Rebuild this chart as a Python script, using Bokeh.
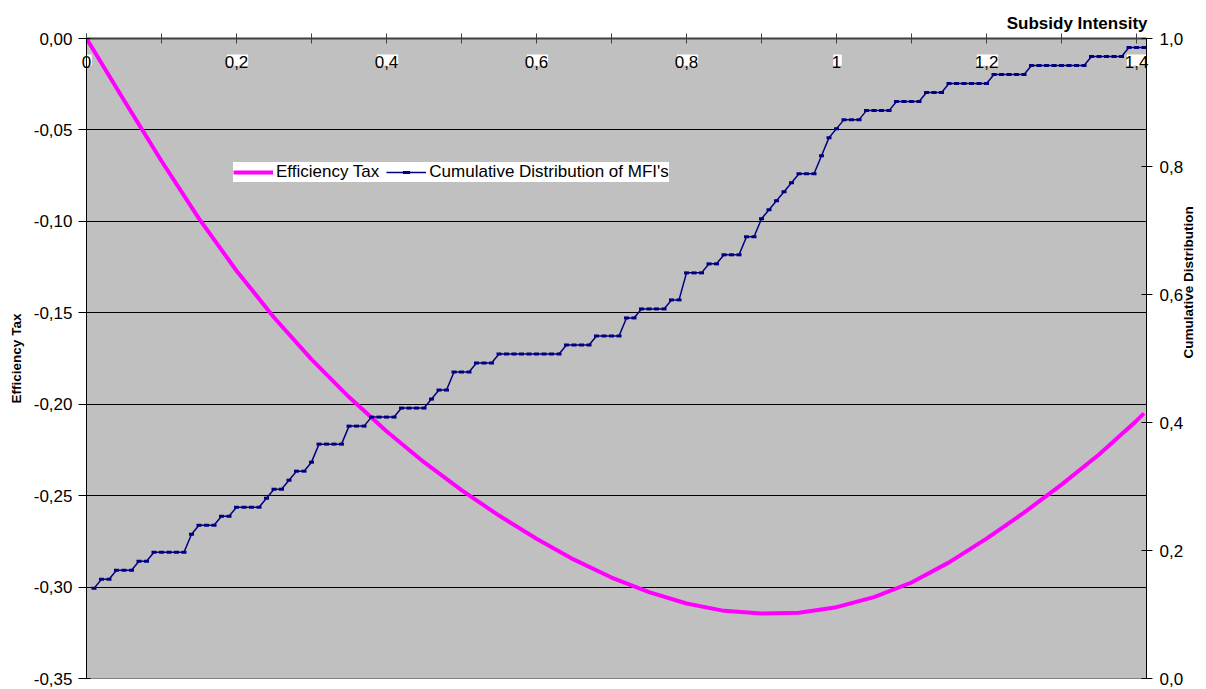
import math
from bokeh.plotting import figure
from bokeh.models import (Range1d, LinearAxis, FixedTicker, Legend, LegendItem,
                          LabelSet, ColumnDataSource, Title)
from bokeh.embed import file_html
from bokeh.resources import INLINE

FONT = "Liberation Sans"

# ---------------- data ----------------
# Efficiency tax curve
si_grid = [0.00, 0.05, 0.10, 0.15, 0.20, 0.25, 0.30, 0.35, 0.40, 0.45, 0.50,
           0.55, 0.60, 0.65, 0.70, 0.75, 0.80, 0.85, 0.90, 0.95, 1.00, 1.05,
           1.10, 1.15, 1.20, 1.25, 1.30, 1.35, 1.40, 1.41]
efficiency_tax = [0.0000, -0.0338, -0.0670, -0.0985, -0.1270, -0.1526, -0.1755,
                  -0.1961, -0.2148, -0.2317, -0.2470, -0.2609, -0.2736, -0.2850,
                  -0.2948, -0.3028, -0.3090, -0.3130, -0.3145, -0.3140, -0.3110,
                  -0.3055, -0.2975, -0.2865, -0.2735, -0.2593, -0.2440, -0.2275,
                  -0.2090, -0.2050]

# Cumulative distribution of MFIs: number of MFIs with subsidy intensity <= x
N_MFI = 71
mfi_count = [10, 11, 11, 12, 12, 12, 13, 13, 14, 14, 14, 14, 14, 16, 17, 17, 17,
             18, 18, 19, 19, 19, 19, 20, 21, 21, 22, 23, 23, 24, 26, 26, 26, 26,
             28, 28, 28, 29, 29, 29, 29, 30, 30, 30, 30, 31, 32, 32, 34, 34, 34,
             35, 35, 35, 36, 36, 36, 36, 36, 36, 36, 36, 36, 37, 37, 37, 37,
             38, 38, 38, 38, 40, 40, 41, 41, 41, 41, 42, 42, 45, 45, 45, 46, 46,
             47, 47, 47, 49, 49, 51, 52, 53, 54, 55, 56, 56, 56, 58, 60, 61,
             62, 62, 62, 63, 63, 63, 63, 64, 64, 64, 64, 65, 65, 65,
             66, 66, 66, 66, 66, 66, 67, 67, 67, 67, 67,
             68, 68, 68, 68, 68, 68, 68, 68, 69, 69, 69, 69, 69, 70, 70, 70]
mfi_si = [round(0.01 * i, 2) for i in range(1, len(mfi_count) + 1)]
mfi_share = [c / N_MFI for c in mfi_count]

# ticks / labels
x_ticks = [0.0, 0.1, 0.2, 0.3, 0.4, 0.5, 0.6, 0.7, 0.8, 0.9, 1.0, 1.1, 1.2, 1.3, 1.4]
x_label_pos = [0.0, 0.2, 0.4, 0.6, 0.8, 1.0, 1.2, 1.4]
x_label_txt = ["0", "0,2", "0,4", "0,6", "0,8", "1", "1,2", "1,4"]
y_ticks = [-0.35, -0.30, -0.25, -0.20, -0.15, -0.10, -0.05, 0.0]
y_labels = ["-0,35", "-0,30", "-0,25", "-0,20", "-0,15", "-0,10", "-0,05", "0,00"]
y2_ticks = [0.0, 0.2, 0.4, 0.6, 0.8, 1.0]
y2_labels = ["0,0", "0,2", "0,4", "0,6", "0,8", "1,0"]

# ---------------- figure ----------------
p = figure(width=1206, height=689, output_backend="svg", toolbar_location=None,
           x_range=Range1d(0, 1.4133), y_range=Range1d(-0.35, 0.0),
           x_axis_location="above",
           min_border_left=86, min_border_right=60, min_border_top=38,
           min_border_bottom=11)
p.background_fill_color = "#C0C0C0"
p.border_fill_color = "white"
p.outline_line_color = "#808080"
p.extra_y_ranges = {"cum": Range1d(0.0, 1.0)}

# top x axis: tick labels pushed below the axis line (inside the plot)
xa = p.xaxis[0]
xa.ticker = FixedTicker(ticks=x_ticks)
xa.axis_line_color = "#404040"
xa.axis_line_width = 2
xa.major_tick_line_color = "#404040"
xa.major_tick_in = 5
xa.major_tick_out = 5
xa.minor_tick_line_color = None
overrides = {t: "" for t in x_ticks}
overrides.update({t: s for t, s in zip(x_label_pos, x_label_txt)})
xa.major_label_overrides = overrides
xa.major_label_text_font = FONT
xa.major_label_text_font_size = "17px"
xa.major_label_text_color = "black"
xa.major_label_standoff = -34

# left axis
ya = p.yaxis[0]
ya.ticker = FixedTicker(ticks=y_ticks)
ya.major_label_overrides = {t: s for t, s in zip(y_ticks, y_labels)}
ya.major_label_text_font = FONT
ya.major_label_text_font_size = "17px"
ya.major_label_text_color = "black"
ya.major_label_standoff = 6
ya.major_tick_out = 8
ya.major_tick_in = 4
ya.major_tick_line_color = "black"
ya.minor_tick_line_color = None
ya.axis_line_color = "black"
ya.axis_label = "Efficiency Tax"
ya.axis_label_text_font = FONT
ya.axis_label_text_font_size = "13.5px"
ya.axis_label_text_font_style = "bold"
ya.axis_label_text_color = "black"
ya.axis_label_standoff = 7

# right axis
ra = LinearAxis(y_range_name="cum", ticker=FixedTicker(ticks=y2_ticks))
ra.major_label_overrides = {t: s for t, s in zip(y2_ticks, y2_labels)}
ra.major_label_text_font = FONT
ra.major_label_text_font_size = "17px"
ra.major_label_text_color = "black"
ra.major_label_standoff = 7
ra.major_tick_out = 6
ra.major_tick_in = 5
ra.major_tick_line_color = "black"
ra.minor_tick_line_color = None
ra.axis_line_color = "black"
ra.axis_label = "Cumulative Distribution"
ra.axis_label_orientation = math.pi / 2
ra.axis_label_text_font = FONT
ra.axis_label_text_font_size = "13.5px"
ra.axis_label_text_font_style = "bold"
ra.axis_label_text_color = "black"
ra.axis_label_standoff = 2
p.add_layout(ra, "right")

# x axis title, right aligned above the plot
p.add_layout(Title(text="Subsidy Intensity", align="right", text_font=FONT,
                   text_font_size="17px", text_font_style="bold",
                   text_color="black", standoff=11, offset=-1), "above")

# grid
p.xgrid.visible = False
p.ygrid.ticker = FixedTicker(ticks=y_ticks[1:-1])
p.ygrid.grid_line_color = "black"
p.ygrid.grid_line_width = 1

# white boxes behind the top tick labels (drawn under the axis labels)
lbl_src = ColumnDataSource(dict(x=x_label_pos, text=x_label_txt))
p.add_layout(LabelSet(x="x", y=613, y_units="screen", text="text",
                      source=lbl_src, x_offset=1, text_align="center",
                      text_baseline="alphabetic", text_font=FONT,
                      text_font_size="17px", text_color="white",
                      background_fill_color="white", level="underlay"))

# ---------------- series ----------------
eff = p.line(si_grid, efficiency_tax, line_color="#FF00FF", line_width=4)
cum_line = p.line(mfi_si, mfi_share, y_range_name="cum",
                  line_color="#000080", line_width=1.5)
cum_pts = p.scatter(mfi_si, mfi_share, y_range_name="cum", marker="dash",
                    size=5, line_color="#000080", line_width=3)

# legend
legend = Legend(items=[LegendItem(label="Efficiency Tax", renderers=[eff]),
                       LegendItem(label="Cumulative Distribution of MFI's",
                                  renderers=[cum_line, cum_pts])],
                location=(147, 496), orientation="horizontal",
                background_fill_color="white", background_fill_alpha=1.0,
                border_line_color=None, label_text_font=FONT,
                label_text_font_size="17px", label_text_color="black",
                glyph_width=40, glyph_height=18, label_height=18,
                label_standoff=3, spacing=7, padding=6, margin=0)
p.add_layout(legend, "center")

open("out.html", "w").write(file_html(p, INLINE))
